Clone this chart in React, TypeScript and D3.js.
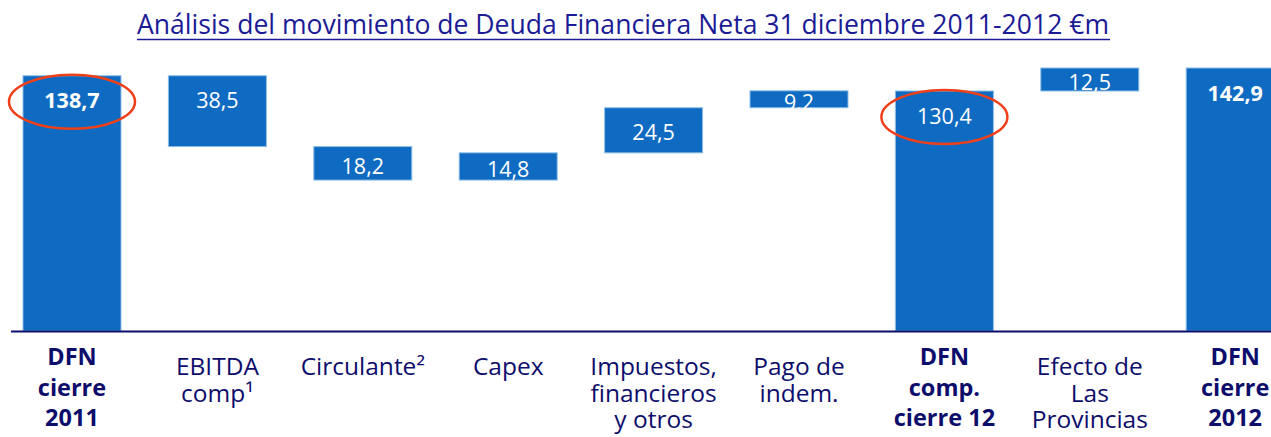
import React, { useEffect, useRef } from "react";
import * as d3 from "d3";

// categories (each one split into lines as in the slide)
const categories: string[][] = [
  ["DFN", "cierre", "2011"],
  ["EBITDA", "comp¹"],
  ["Circulante²"],
  ["Capex"],
  ["Impuestos,", "financieros", "y otros"],
  ["Pago de", "indem."],
  ["DFN", "comp.", "cierre 12"],
  ["Efecto de", "Las", "Provincias"],
  ["DFN", "cierre", "2012"],
];
// signed movements; totals are absolute levels
const values: number[] = [138.7, -38.5, -18.2, 14.8, 24.5, 9.2, 130.4, 12.5, 142.9];
const isTotal: boolean[] = [true, false, false, false, false, false, true, false, true];
const boldValue: boolean[] = [true, false, false, false, false, false, false, false, true];
const highlighted: number[] = [0, 6];

const title = "Análisis del movimiento de Deuda Financiera Neta 31 diciembre 2011-2012 €m";

interface Step {
  key: string;
  lines: string[];
  y0: number;
  y1: number;
  value: number;
  total: boolean;
  bold: boolean;
}

const width = 1271;
const height = 437;
const NAVY = "#0d0d6b";
const BLUE = "#0f6bc1";

const App: React.FC = () => {
  const svgRef = useRef<SVGSVGElement>(null);

  useEffect(() => {
    const svg = d3.select(svgRef.current);
    svg.selectAll("*").remove();

    // running total for the waterfall
    let level = 0;
    const steps: Step[] = values.map((v, i) => {
      let y0: number, y1: number;
      if (isTotal[i]) {
        y0 = 0;
        y1 = v;
        level = v;
      } else {
        y0 = level;
        y1 = level + v;
        level = y1;
      }
      return { key: "c" + i, lines: categories[i], y0, y1, value: v, total: isTotal[i], bold: boldValue[i] };
    });

    const step = 145.4;
    const x = d3
      .scaleBand()
      .domain(steps.map((d) => d.key))
      .range([23 - step * 0.163, 23 - step * 0.163 + step * 9])
      .paddingInner(0.326)
      .paddingOuter(0.163);

    const y = d3.scaleLinear().domain([0, 150]).range([331, 331 - 150 * 1.8405]);

    // title
    svg
      .append("text")
      .attr("x", 623)
      .attr("y", 34)
      .attr("text-anchor", "middle")
      .attr("font-family", "'Open Sans', sans-serif")
      .attr("font-size", 27)
      .attr("fill", "#1b1b96")
      .attr("textLength", 972)
      .attr("lengthAdjust", "spacingAndGlyphs")
      .text(title);
    svg
      .append("line")
      .attr("x1", 137)
      .attr("x2", 1110)
      .attr("y1", 39.5)
      .attr("y2", 39.5)
      .attr("stroke", "#1b1b96")
      .attr("stroke-width", 1.5);

    const bars = svg.append("g");
    bars
      .selectAll("rect")
      .data(steps)
      .join("rect")
      .attr("x", (d) => x(d.key)!)
      .attr("width", x.bandwidth())
      .attr("y", (d) => y(Math.max(d.y0, d.y1)))
      .attr("height", (d) => Math.abs(y(d.y0) - y(d.y1)))
      .attr("fill", BLUE)
      .attr("stroke", "#8dbde8")
      .attr("stroke-width", 1);

    // value labels
    const labelY = (d: Step) => {
      const top = y(Math.max(d.y0, d.y1));
      const bottom = y(Math.min(d.y0, d.y1));
      return Math.min(top + 25, (top + bottom) / 2 + 3);
    };
    svg
      .append("g")
      .selectAll("text")
      .data(steps)
      .join("text")
      .attr("x", (d) => x(d.key)! + x.bandwidth() / 2)
      .attr("y", (d) => labelY(d))
      .attr("dy", "0.36em")
      .attr("text-anchor", "middle")
      .attr("font-family", "'Open Sans', sans-serif")
      .attr("font-size", 21.5)
      .attr("font-weight", (d) => (d.bold ? 700 : 400))
      .attr("fill", "#ffffff")
      .text((d) => d3.format(".1f")(Math.abs(d.value)).replace(".", ","));

    // baseline
    svg
      .append("line")
      .attr("x1", 11)
      .attr("x2", width)
      .attr("y1", y(0) + 0.5)
      .attr("y2", y(0) + 0.5)
      .attr("stroke", NAVY)
      .attr("stroke-width", 2);

    // category labels
    const cat = svg
      .append("g")
      .selectAll("text")
      .data(steps)
      .join("text")
      .attr("text-anchor", "middle")
      .attr("font-family", "'Open Sans', sans-serif")
      .attr("font-size", (d) => (d.total ? 23.5 : 24.5))
      .attr("font-weight", (d) => (d.total ? 700 : 400))
      .attr("fill", NAVY);
    cat
      .selectAll("tspan")
      .data((d) => d.lines.map((l, i) => ({ l, i, total: d.total, cx: x(d.key)! + x.bandwidth() / 2 })))
      .join("tspan")
      .attr("x", (t) => t.cx)
      .attr("y", (t) => (t.total ? 365 + t.i * 30.5 : 375 + t.i * 26.5))
      .text((t) => t.l);

    // red highlight ellipses
    svg
      .append("g")
      .selectAll("ellipse")
      .data(steps.filter((_, i) => highlighted.includes(i)))
      .join("ellipse")
      .attr("cx", (d) => x(d.key)! + x.bandwidth() / 2)
      .attr("cy", (d) => labelY(d) + 1)
      .attr("rx", 63)
      .attr("ry", 27)
      .attr("fill", "none")
      .attr("stroke", "#f0401a")
      .attr("stroke-width", 2.5);
  }, []);

  return (
    <div>
      <style>{`body{margin:0}`}</style>
      <svg ref={svgRef} width={width} height={height} style={{ display: "block" }}></svg>
    </div>
  );
};

export default App;
